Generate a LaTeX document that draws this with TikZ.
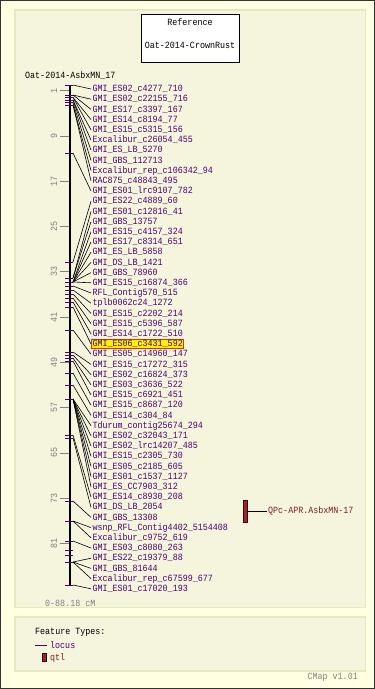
\documentclass[tikz,border=0pt]{standalone}
\usepackage{fontspec}
\usepackage{tikz}
\newfontfamily\cmapfont[FakeStretch=0.88]{Liberation Mono}

\definecolor{outerbg}{RGB}{255,255,225}
\definecolor{panelbg}{RGB}{245,245,222}
\definecolor{panelline}{RGB}{232,232,192}
\definecolor{locuspurple}{RGB}{72,0,110}
\definecolor{qtlred}{RGB}{160,38,38}
\definecolor{qtltext}{RGB}{125,30,30}
\definecolor{scalegray}{RGB}{128,128,128}
\definecolor{hiliteedge}{RGB}{235,45,0}

\tikzset{
    mono/.style = {font=\cmapfont\fontsize{9.5}{11}\selectfont, inner sep=1pt},
    locus/.style = {mono, text=locuspurple, anchor=west},
    tickmark/.style = {draw=locuspurple, line width=1pt},
    link/.style = {draw=black, line width=0.6pt},
    scaletick/.style = {draw=scalegray, line width=0.8pt},
    scalelab/.style = {mono, text=scalegray},
    panel/.style = {fill=panelbg, draw=panelline, line width=1.5pt},
    qtlbar/.style = {fill=qtlred, draw=black!70!qtlred, line width=0.6pt, minimum width=4pt, inner sep=0pt},
    refbox/.style = {draw=black, fill=white, line width=0.8pt, minimum width=98pt, minimum height=48pt}
}

\begin{document}
\begin{tikzpicture}[x=1pt, y=-1pt]
    \useasboundingbox (0,0) rectangle (375,689);
    \draw[fill=outerbg, draw=black!80, line width=1pt] (0.5,0.5) rectangle (374.5,688.5);
    \draw[panel] (15,10) rectangle (365.5,607.5);
    \draw[panel] (15,617) rectangle (365.5,671);

    % reference box
    \node[refbox] (ref) at (190,38) {};
    \node[mono] (reftitle) at (190,22) {Reference};
    \node[mono] (refname) at (190,45) {Oat-2014-CrownRust};

    \node[mono, anchor=west] (mapname) at (24,76) {Oat-2014-AsbxMN\_17};

    % scale
    \foreach \v in {1,9,...,81}{
        \coordinate (s\v) at (69,{85+\v*5.66});
        \draw[scaletick] (s\v) -- ++(-9,0);
        \node[scalelab, rotate=90] (sl\v) at (54,{85+\v*5.66}) {\v};
    }
    \node[scalelab, anchor=west] (range) at (44,603) {0-88.18 cM};

    % map bar
    \coordinate (bartop) at (70,85);
    \coordinate (barbot) at (70,585);
    \draw[line width=2.5pt] (bartop) -- (barbot);
    \foreach \p in {550,555}
        \draw[tickmark] (65,\p) -- (73,\p);

    % loci
    \foreach \i/\p/\name in {
        1/85/GMI\_ES02\_c4277\_710, 2/95/GMI\_ES02\_c22155\_716,
        3/95/GMI\_ES17\_c3397\_167, 4/97.5/GMI\_ES14\_c8194\_77,
        5/97.5/GMI\_ES15\_c5315\_156, 6/100/Excalibur\_c26054\_455,
        7/100/GMI\_ES\_LB\_5270, 8/102.5/GMI\_GBS\_112713,
        9/105/Excalibur\_rep\_c106342\_94, 10/105/RAC875\_c48843\_495,
        11/153/GMI\_ES01\_lrc9107\_782, 12/262/GMI\_ES22\_c4889\_60,
        13/278/GMI\_ES01\_c12816\_41, 14/278/GMI\_GBS\_13757,
        15/282/GMI\_ES15\_c4157\_324, 16/282/GMI\_ES17\_c8314\_651,
        17/282/GMI\_ES\_LB\_5858, 18/282/GMI\_DS\_LB\_1421,
        19/282/GMI\_GBS\_78960, 20/282/GMI\_ES15\_c16874\_366,
        21/286/RFL\_Contig570\_515, 22/290/tplb0062c24\_1272,
        23/294/GMI\_ES15\_c2202\_214, 24/298/GMI\_ES15\_c5396\_587,
        25/302/GMI\_ES14\_c1722\_510, 26/307/GMI\_ES06\_c3431\_592,
        27/330/GMI\_ES05\_c14960\_147, 28/352/GMI\_ES15\_c17272\_315,
        29/355/GMI\_ES02\_c16824\_373, 30/358/GMI\_ES03\_c3636\_522,
        31/361/GMI\_ES15\_c6921\_451, 32/373/GMI\_ES15\_c8687\_120,
        33/385/GMI\_ES14\_c304\_84, 34/399/Tdurum\_contig25674\_294,
        35/399/GMI\_ES02\_c32043\_171, 36/399/GMI\_ES02\_lrc14207\_485,
        37/399/GMI\_ES15\_c2305\_730, 38/399/GMI\_ES05\_c2185\_605,
        39/399/GMI\_ES01\_c1537\_1127, 40/399/GMI\_ES\_CC7903\_312,
        41/435/GMI\_ES14\_c8930\_208, 42/438/GMI\_DS\_LB\_2054,
        43/501/GMI\_GBS\_13308, 44/521/wsnp\_RFL\_Contig4402\_5154408,
        45/521/Excalibur\_c9752\_619, 46/541/GMI\_ES03\_c8080\_263,
        47/562/GMI\_ES22\_c19379\_88, 48/562/GMI\_GBS\_81644,
        49/562/Excalibur\_rep\_c67599\_677, 50/585/GMI\_ES01\_c17020\_193}{
        \coordinate (t\i) at (73,\p);
        \ifnum\i=26 \def\fc{yellow}\def\dc{hiliteedge}\else\def\fc{none}\def\dc{none}\fi
        \node[locus, fill=\fc, draw=\dc, line width=1pt] (l\i) at (91,{89+(\i-1)*10.2}) {\name};
        \draw[tickmark] ([xshift=-8pt]t\i) -- (t\i);
        \draw[link] (t\i) -- (l\i.west);
    }

    % qtl
    \node[qtlbar, minimum height=22pt] (qtl) at (245,511) {};
    \node[mono, text=qtltext, anchor=west] (qtlname) at (267,511) {QPc-APR.AsbxMN-17};
    \draw[link] (qtl.east) -- (qtlname.west);

    % legend
    \node[mono, anchor=west] (feat) at (34,632) {Feature Types:};
    \coordinate (lgA) at (35,645);
    \coordinate (lgB) at (47,645);
    \draw[locuspurple, line width=0.8pt] (lgA) -- (lgB);
    \node[mono, text=locuspurple, anchor=west] (lglocus) at (49,645) {locus};
    \node[qtlbar, minimum height=8pt] (lgqtl) at (44.5,657) {};
    \node[mono, text=qtltext, anchor=west] (lgqtlname) at (49,658) {qtl};
    \node[scalelab, anchor=east] (version) at (359,677) {CMap v1.01};
\end{tikzpicture}
\end{document}
